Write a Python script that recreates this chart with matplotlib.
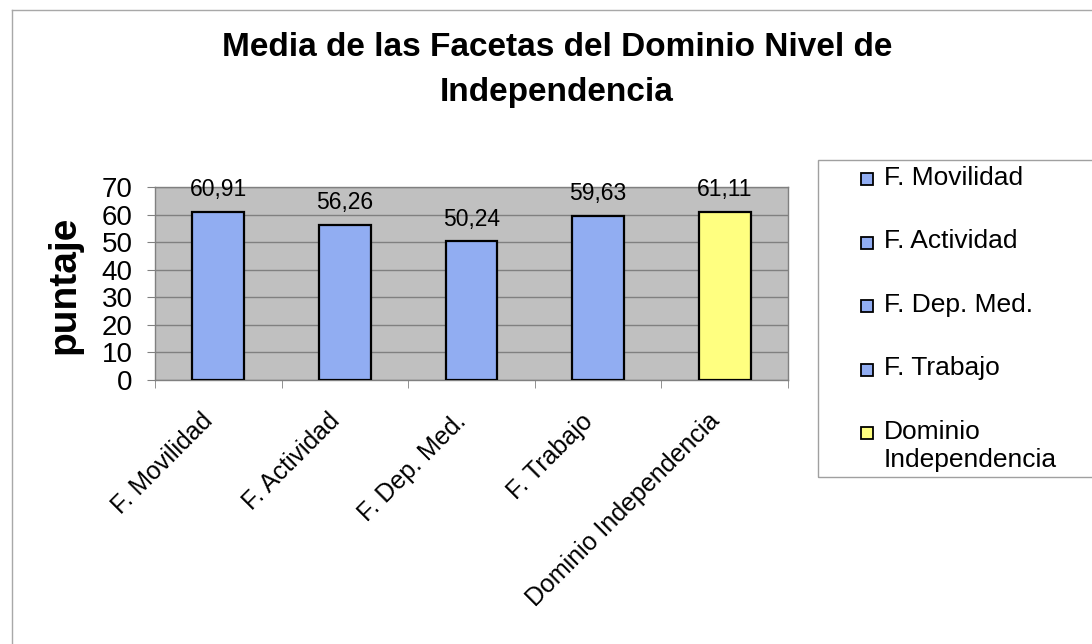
import numpy as np
import matplotlib
matplotlib.use("Agg")
import matplotlib.pyplot as plt
import matplotlib.transforms as mtransforms
from matplotlib.patches import Rectangle
from matplotlib.lines import Line2D

plt.rcParams['font.family'] = ['Liberation Sans', 'DejaVu Sans']

# ── Data ──────────────────────────────────────────────────────────────────────
categories = ["F. Movilidad", "F. Actividad", "F. Dep. Med.", "F. Trabajo",
              "Dominio Independencia"]
legend_labels = ["F. Movilidad", "F. Actividad", "F. Dep. Med.", "F. Trabajo",
                 "Dominio\nIndependencia"]
values = [60.91, 56.26, 50.24, 59.63, 61.11]
bar_colors = ["#91adf2", "#91adf2", "#91adf2", "#91adf2", "#ffff80"]
yticks = [0, 10, 20, 30, 40, 50, 60, 70]

# ── Layout helpers (pixel -> figure fraction) ────────────────────────────────
W, H = 1092, 644
fig = plt.figure(figsize=(W / 100, H / 100), dpi=100)
fig.patch.set_facecolor("white")

def fx(px):
    return px / W

def fy(py):
    return 1 - py / H

ax = fig.add_axes([fx(155), fy(380), fx(788) - fx(155), fy(187) - fy(380)])

x = np.arange(len(categories))
ax.bar(x, values, width=0.41, color=bar_colors, edgecolor="black",
       linewidth=1.6, zorder=3)

ax.set_xlim(-0.5, len(categories) - 0.5)
ax.set_ylim(0, 70)
ax.set_facecolor("#c0c0c0")
ax.yaxis.grid(True, color="#808080", linewidth=1)
ax.set_axisbelow(True)
for sp in ax.spines.values():
    sp.set_color("#808080")
    sp.set_linewidth(1)

ax.set_yticks(yticks)
ax.tick_params(axis="y", length=6, pad=10, labelsize=20, color="#808080")

ax.set_xticks(x)
ax.set_xticklabels(categories, rotation=45, ha="right", va="center",
                   rotation_mode="anchor", fontsize=18)
ax.tick_params(axis="x", which="major", length=0, pad=27)
shift = mtransforms.ScaledTranslation(-9 / 100, 0, fig.dpi_scale_trans)
for lbl in ax.get_xticklabels():
    lbl.set_transform(lbl.get_transform() + shift)
ax.set_xticks(np.arange(-0.5, len(categories), 1), minor=True)
ax.tick_params(axis="x", which="minor", length=6, color="#808080")

# value labels with decimal comma
for i, v in enumerate(values):
    ax.annotate(f"{v:.2f}".replace(".", ","), (x[i], v), xytext=(0, 16),
                textcoords="offset points", ha="center", va="center",
                fontsize=16.5)

# y label and title
fig.text(fx(64), fy(285), "puntaje", rotation=90, fontsize=28,
         fontweight="bold", ha="center", va="center")
fig.text(fx(557), fy(70), "Media de las Facetas del Dominio Nivel de\nIndependencia",
         ha="center", va="center", fontsize=24, fontweight="bold",
         linespacing=1.55)

# outer chart border (right/bottom fall outside the picture)
fig.add_artist(Line2D([fx(12), fx(12)], [fy(10), 0], transform=fig.transFigure,
                      color="#a8a8a8", linewidth=1))
fig.add_artist(Line2D([fx(12), 1], [fy(10), fy(10)], transform=fig.transFigure,
                      color="#a8a8a8", linewidth=1))

# legend box drawn by hand so the last entry's marker sits on its first line
fig.add_artist(Rectangle((fx(818), fy(477)), 1 - fx(818) + 0.01, fy(160) - fy(477),
                         transform=fig.transFigure, fill=False,
                         edgecolor="#a0a0a0", linewidth=1))
row0, pitch = 178, 63.5
for i, (lab, col) in enumerate(zip(legend_labels, bar_colors)):
    yc = row0 + i * pitch
    fig.add_artist(Rectangle((fx(861), fy(yc + 7)), fx(12), fy(yc - 5) - fy(yc + 7),
                             transform=fig.transFigure, facecolor=col,
                             edgecolor="black", linewidth=1.3))
    for j, line in enumerate(lab.split("\n")):
        fig.text(fx(884), fy(yc + j * 28), line, ha="left", va="center",
                 fontsize=19)

fig.savefig("out.png", dpi=100)
